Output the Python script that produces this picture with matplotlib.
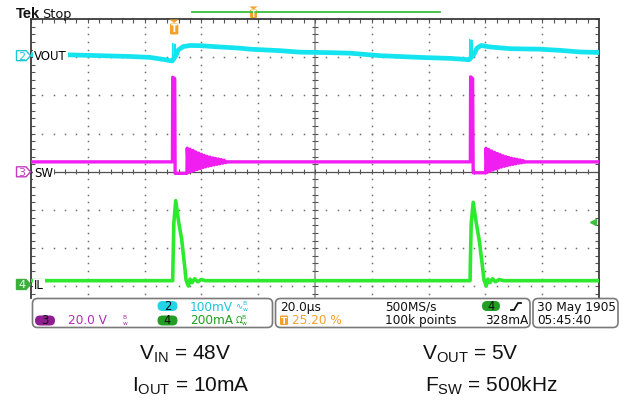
import numpy as np
import matplotlib
matplotlib.use('Agg')
import matplotlib.pyplot as plt
from matplotlib.patches import Polygon, FancyBboxPatch
from matplotlib.transforms import IdentityTransform
from matplotlib.lines import Line2D
from matplotlib.collections import LineCollection

W, H = 628, 404

# ---------------- data ----------------
time_per_div = 20.0        # us/div
trigger_pos = 0.252        # 25.20 %
ch2_scale, ch2_pos = 100.0, 3.04    # mV/div, div
ch3_scale, ch3_pos = 20.0, 0.0      # V/div
ch4_scale, ch4_pos = 200.0, -2.95   # mA/div
trigger_level_ma = 328

# VOUT (ch2), mV around its marker
vout_t = [-50.4, -36.7, -26.1, -15.5, -8.5, -3.2, -0.7, 0.7, 1.4, 3.1, 5.6, 9.1, 14.4, 23.2, 26.7,
          37.3, 44.3, 54.9, 62.0, 72.5, 86.6, 97.2, 103.9, 105.6, 106.6, 108.1, 111.2, 118.3,
          128.8, 135.9, 142.9, 149.6]
vout_mv = [2.6, 2.1, 0.0, -2.1, -4.5, -10.5, -13.9, 1.3, 14.4, 23.6, 26.7, 26.2, 23.6, 19.6, 17.0,
           13.1, 9.2, 7.9, 6.5, 0.0, -4.5, -7.1, -10.5, 3.9, 19.6, 26.7, 22.8, 18.3,
           17.0, 13.9, 9.7, 8.4]
vout_spike_t = [-0.6, -0.5, -0.4, 0.2, 0.3, 0.5, None, 104.0, 104.1, 104.2, 104.7, 104.8, 105.0]
vout_spike_mv = [-14, 32, -14, -12, 30, 0, None, -11, 42, -11, -9, 41, 0]

# SW (ch3), volts
sw_t = [-50.4, -0.6, -0.5, 0.2, 0.35, 4.5,
        4.6, 5.1, 5.6, 6.1, 6.6, 7.1, 7.6, 8.1, 8.6, 9.1, 9.6, 10.1, 10.6, 11.1, 11.6, 12.1,
        12.6, 13.1, 13.6, 14.1, 14.6, 15.1, 15.6, 16.1, 16.6, 17.1, 17.6, 18.1, 18.6,
        104.3, 104.4, 105.1, 105.3, 109.7,
        109.8, 110.3, 110.8, 111.3, 111.8, 112.3, 112.8, 113.3, 113.8, 114.3, 114.8, 115.3,
        115.8, 116.3, 116.8, 117.3, 117.8, 118.3, 118.8, 119.3, 119.8, 120.3, 120.8, 121.3,
        121.8, 122.3, 122.8, 123.3, 123.8, 149.6]
sw_v = [5.2, 5.2, 49.5, 48.8, -0.8, -0.8,
        12.4, -0.3, 11.8, 0.2, 11.2, 0.7, 10.4, 1.2, 9.8, 1.7, 9.2, 2.2, 8.6, 2.6, 8.1, 3.0,
        7.7, 3.3, 7.3, 3.6, 7.0, 3.9, 6.7, 4.2, 6.4, 4.5, 6.1, 4.8, 5.2,
        5.2, 49.7, 48.8, -0.5, -0.5,
        12.3, -0.2, 11.6, 0.4, 10.9, 0.9, 10.2, 1.5, 9.6, 2.0, 9.0, 2.5,
        8.4, 2.9, 7.9, 3.3, 7.5, 3.6, 7.1, 3.9, 6.8, 4.2, 6.5, 4.5,
        6.2, 4.7, 5.9, 5.0, 5.2, 5.2]

# IL (ch4), mA
il_t = [-50.4, -0.5, -0.4, -0.1, 0.56, 1.48, 2.68, 3.73, 4.19, 5.0, 5.6, 6.3, 7.2, 8.3, 9.5, 11.0,
        104.2, 104.3, 104.6, 105.3, 106.3, 107.5, 108.6, 109.1, 109.9, 110.5, 111.2, 112.1,
        113.2, 114.4, 116.0, 149.6]
il_ma = [20, 20, 113, 322, 439, 338, 233, 93, 24, -8, 28, 10, 30, 14, 26, 20,
         20, 110, 320, 430, 330, 225, 90, 24, -8, 28, 10, 30,
         14, 26, 20, 20]

channel_labels = ['VOUT', 'SW', 'IL']
readout_ch2 = '100mV'
readout_ch3 = '20.0 V'
readout_ch4 = '200mA'
readout_time = '20.0µs'
readout_trigpos = '25.20 %'
readout_rate = '500MS/s'
readout_points = '100k points'
readout_level = '328mA'
readout_date = '30 May 1905'
readout_clock = '05:45:40'
cond_left = [r'$\mathregular{V_{IN}}$ = 48V', r'$\mathregular{I_{OUT}}$ = 10mA']
cond_right = [r'$\mathregular{V_{OUT}}$ = 5V', r'$\mathregular{F_{SW}}$ = 500kHz']

# ---------------- style ----------------
CYAN = '#14E4F0'
MAG = '#F01EF0'
GRN = '#2EEA2E'
ORANGE = '#F3A129'

plt.rcParams['font.family'] = ['DejaVu Sans']
fig = plt.figure(figsize=(W / 100, H / 100), dpi=100)
fig.patch.set_facecolor('white')
ID = IdentityTransform()


def Y(y):
    return H - y


def ftext(x, y, s, **kw):
    kw.setdefault('va', 'baseline')
    return fig.text(x, Y(y), s, transform=ID, **kw)


def fpoly(pts, **kw):
    p = Polygon([(x, Y(y)) for x, y in pts], closed=True, transform=ID, **kw)
    fig.add_artist(p)
    return p


def fbox(x0, y0, x1, y1, r, **kw):
    p = FancyBboxPatch((x0, Y(y1)), x1 - x0, y1 - y0,
                       boxstyle='round,pad=0,rounding_size=%g' % r, transform=ID, **kw)
    fig.add_artist(p)
    return p


ax = fig.add_axes([31 / W, 1 - 298 / H, 568 / W, 279 / H])
t0 = -trigger_pos * 10 * time_per_div
t1 = t0 + 10 * time_per_div
ax.set_xlim(t0, t1)
ax.set_ylim(4 - 279 / 38.2, 4)
ax.set_xticks([])
ax.set_yticks([])
ax.set_facecolor('white')
for s in ['left', 'top', 'right']:
    ax.spines[s].set_color('#3a3a3a')
    ax.spines[s].set_linewidth(1.3)
ax.spines['bottom'].set_visible(False)

# graticule
xmaj = [t0 + k * time_per_div for k in range(11)]
minor_y = np.arange(-17, 21) * 0.2
minor_x = t0 + np.arange(0, 51) * time_per_div / 5
dx, dy = [], []
for k in range(1, 10):
    if k == 5:
        continue
    dx += [xmaj[k]] * len(minor_y)
    dy += list(minor_y)
for j in [-3, -2, -1, 1, 2, 3]:
    dx += list(minor_x)
    dy += [j] * len(minor_x)
ax.plot(dx, dy, ls='none', marker='s', ms=1.1, mew=0, color='#6e6e6e', zorder=1)
ax.axvline(xmaj[5], color='#a8a8a8', lw=1.4, zorder=1)
ax.axhline(0, color='#505050', lw=0.9, zorder=1)
segs = []
for yv in minor_y:
    segs.append([(xmaj[5] - 1.0, yv), (xmaj[5] + 1.0, yv)])
    segs.append([(t0, yv), (t0 + 1.4, yv)])
    segs.append([(t1 - 1.4, yv), (t1, yv)])
for xv in minor_x:
    segs.append([(xv, -0.07), (xv, 0.07)])
    segs.append([(xv, 4), (xv, 3.9)])
ax.add_collection(LineCollection(segs, colors='#555555', linewidths=0.8, zorder=1))

# traces
ax.plot(vout_t, ch2_pos + np.array(vout_mv) / ch2_scale, color=CYAN, lw=3.4,
        solid_joinstyle='round', zorder=3)
sp_y = [None if v is None else ch2_pos + v / ch2_scale for v in vout_spike_mv]
ax.plot(vout_spike_t, sp_y, color=CYAN, lw=1.0, zorder=3)
ax.plot(sw_t, ch3_pos + np.array(sw_v) / ch3_scale, color=MAG, lw=2.4, zorder=3)
ax.plot(il_t, ch4_pos + np.array(il_ma) / ch4_scale, color=GRN, lw=2.6, zorder=4)
ax.plot([t1 - 2.0], [ch4_pos + trigger_level_ma / ch4_scale], marker='<', ms=4.5,
        color='#3DBE3D', clip_on=False, zorder=5)

# channel markers & labels
fig.canvas.draw()


def ch_marker(yc, edge, face, numcol, num):
    pts = [(16.5, yc - 5), (26, yc - 5), (30.5, yc), (26, yc + 5), (16.5, yc + 5)]
    fpoly(pts, facecolor=face, edgecolor=edge, lw=1.0)
    ftext(22, yc + 4, num, color=numcol, fontsize=8, ha='center')


ch2_px = Y(ax.transData.transform((0, ch2_pos))[1])
ch3_px = Y(ax.transData.transform((0, ch3_pos))[1])
ch4_px = Y(ax.transData.transform((0, ch4_pos))[1])
ch_marker(ch2_px, '#22C6DA', 'white', '#22C6DA', '2')
ch_marker(ch3_px, '#C23CC2', 'white', '#C23CC2', '3')
ch_marker(ch4_px, '#3DAF3D', '#3DAF3D', '#E8FFE8', '4')
lab_bbox = dict(facecolor='white', edgecolor='none', pad=0.6)
ftext(34, ch2_px + 4, channel_labels[0], fontsize=8.5, color='black', bbox=lab_bbox)
ftext(34, ch3_px + 5, channel_labels[1], fontsize=8.5, color='black', bbox=lab_bbox)
ftext(34, ch4_px + 5, channel_labels[2], fontsize=8.5, color='black', bbox=lab_bbox)

# trigger position marker (top)
xt = ax.transData.transform((0, 4))[0]
fpoly([(xt - 4.5, 19.5), (xt + 4.5, 19.5), (xt, 23)], facecolor=ORANGE, edgecolor='none')
fbox(xt - 4.2, 23.5, xt + 4.2, 34.5, 1.5, facecolor=ORANGE, edgecolor='none')
ftext(xt, 32.5, 'T', fontsize=7, color='white', fontweight='bold', ha='center')

# top bar
ftext(16, 18, 'Tek', fontsize=10.5, fontweight='bold', family='Liberation Sans', color='#111111')
ftext(42, 18, 'Stop', fontsize=9.3, color='#111111')
fig.add_artist(Line2D([192, 440], [Y(12.3), Y(12.3)], color='#3DBE3D', lw=1.3, transform=ID))
fpoly([(249.3, 6.5), (257.7, 6.5), (253.5, 9.5)], facecolor=ORANGE, edgecolor='none')
fbox(250, 9.5, 257, 18, 1.2, facecolor=ORANGE, edgecolor='none')
ftext(253.5, 17, 'T', fontsize=5.5, color='white', fontweight='bold', ha='center')

# readout panel
for (a, b) in [(32.5, 272.5), (275.5, 530.0), (533.0, 618.0)]:
    fbox(a, 298.5, b, 327.5, 5, facecolor='white', edgecolor='#7a7a7a', lw=1.2)

R1, R2 = 310.8, 324.4
FS = 8.7
BW = r'$^{\mathregular{B}}_{\mathregular{w}}$'


def badge(xc, yc, w, num, col, tcol='#111111'):
    fbox(xc - w / 2, yc - 5, xc + w / 2, yc + 5, 5, facecolor=col, edgecolor='none')
    ftext(xc, yc + 3.8, num, fontsize=8.3, color=tcol, ha='center')


badge(167.5, 306, 20, '2', '#22D4E6')
ftext(190, R1, readout_ch2, fontsize=FS, color='#1CC2DC')
ftext(235, R1 - 1, '∿' + BW, fontsize=6.2, color='#1CC2DC')
badge(45, 320.5, 20, '3', '#901E90')
ftext(68, R2, readout_ch3, fontsize=FS, color='#B22CB2')
ftext(122, R2 - 1, BW, fontsize=6.2, color='#B22CB2')
badge(167.5, 320.5, 20, '4', '#229E22')
ftext(190, R2, readout_ch4, fontsize=FS, color='#1F9F1F')
ftext(235, R2 - 1, 'Ω' + BW, fontsize=6.2, color='#1F9F1F')

ftext(280, R1, readout_time, fontsize=FS, color='#111111')
fbox(280, 315.5, 288, 325, 1.2, facecolor=ORANGE, edgecolor='none')
ftext(284, 323.5, 'T', fontsize=6.5, color='white', fontweight='bold', ha='center')
ftext(292, R2, readout_trigpos, fontsize=FS, color=ORANGE)
ftext(385, R1, readout_rate, fontsize=FS, color='#111111')
ftext(385, R2, readout_points, fontsize=FS, color='#111111')
badge(491, 306, 18, '4', '#229E22')
fig.add_artist(Line2D([511, 514, 518, 521], [Y(310), Y(310), Y(303), Y(303)],
                      color='#111111', lw=1.3, transform=ID))
ftext(485, R2, readout_level, fontsize=FS, color='#111111')
ftext(537, R1, readout_date, fontsize=FS, color='#111111')
ftext(537, R2, readout_clock, fontsize=FS, color='#111111')

# test conditions
CF = dict(fontsize=15, family='Liberation Sans', color='#111111')
ftext(139, 360, cond_left[0], **CF)
ftext(132, 392, cond_left[1], **CF)
ftext(422, 360, cond_right[0], **CF)
ftext(425, 392, cond_right[1], **CF)

fig.savefig('out.png', dpi=100, facecolor='white')
